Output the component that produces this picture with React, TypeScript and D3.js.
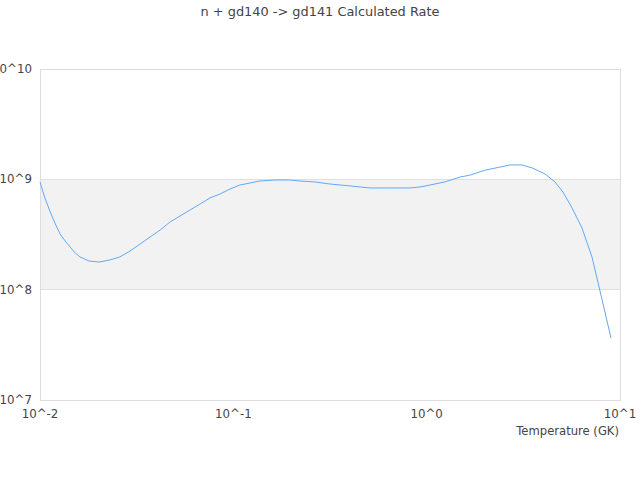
import React, { useRef, useEffect } from "react";
import * as d3 from "d3";

const title = "n + gd140 -> gd141 Calculated Rate";
const xLabel = "Temperature (GK)";

// temperature (GK)
const temps = [
  0.01, 0.0106, 0.0113, 0.012, 0.0127, 0.0136, 0.0143, 0.0152, 0.0161, 0.0179,
  0.0202, 0.023, 0.0259, 0.0292, 0.0329, 0.0371, 0.0418, 0.047, 0.053, 0.0597,
  0.0673, 0.0757, 0.0853, 0.0961, 0.108, 0.122, 0.137, 0.164, 0.196, 0.221,
  0.264, 0.316, 0.401, 0.509, 0.646, 0.82, 0.924, 1.04, 1.24, 1.49, 1.67, 2.0,
  2.39, 2.7, 3.11, 3.51, 4.09, 4.61, 5.07, 5.65, 6.36, 7.16, 7.97, 8.98,
];

// rate
const rates = [
  9.47e8, 6.78e8, 5.06e8, 3.94e8, 3.2e8, 2.71e8, 2.44e8, 2.15e8, 1.98e8, 1.82e8,
  1.78e8, 1.86e8, 1.98e8, 2.24e8, 2.59e8, 3.0e8, 3.47e8, 4.1e8, 4.65e8, 5.27e8,
  5.98e8, 6.78e8, 7.36e8, 8.17e8, 8.88e8, 9.26e8, 9.66e8, 9.87e8, 9.87e8, 9.66e8,
  9.47e8, 9.07e8, 8.71e8, 8.35e8, 8.35e8, 8.35e8, 8.53e8, 8.88e8, 9.47e8, 1.05e9,
  1.09e9, 1.21e9, 1.29e9, 1.35e9, 1.35e9, 1.27e9, 1.12e9, 9.47e8, 7.67e8, 5.5e8,
  3.62e8, 1.98e8, 8.96e7, 3.65e7,
];

const xTicks = [0.01, 0.1, 1, 10];
const xTickLabels = ["10^-2", "10^-1", "10^0", "10^1"];
const yTicks = [1e7, 1e8, 1e9, 1e10];
const yTickLabels = ["10^7", "10^8", "10^9", "10^10"];

const App = () => {
  const ref: any = useRef();

  const width = 640;
  const height = 480;
  const left = 40;
  const right = 620;
  const top = 69;
  const bottom = 400;
  const font = "'DejaVu Sans', sans-serif";

  useEffect(() => {
    const svg = d3.select(ref.current);
    svg.selectAll("*").remove();

    const xScale = d3.scaleLog().domain([0.01, 10]).range([left, right]);
    const yScale = d3.scaleLog().domain([1e7, 1e10]).range([bottom, top]);

    // shaded band between 10^8 and 10^9
    svg
      .append("rect")
      .attr("x", left)
      .attr("y", yScale(1e9))
      .attr("width", right - left)
      .attr("height", yScale(1e8) - yScale(1e9))
      .attr("fill", "#f2f2f2");

    // horizontal grid lines
    svg
      .selectAll(".grid")
      .data(yTicks)
      .enter()
      .append("line")
      .attr("x1", left)
      .attr("x2", right)
      .attr("y1", (d: any) => yScale(d))
      .attr("y2", (d: any) => yScale(d))
      .attr("stroke", "#e0e0e0")
      .attr("stroke-width", 1)
      .attr("shape-rendering", "crispEdges");

    // frame
    svg
      .append("rect")
      .attr("x", left)
      .attr("y", top)
      .attr("width", right - left)
      .attr("height", bottom - top)
      .attr("fill", "none")
      .attr("stroke", "#dddddd")
      .attr("shape-rendering", "crispEdges");

    // y tick labels
    svg
      .selectAll(".ylab")
      .data(yTicks)
      .enter()
      .append("text")
      .attr("x", left - 8)
      .attr("y", (d: any) => yScale(d))
      .attr("dy", "0.35em")
      .attr("text-anchor", "end")
      .attr("font-family", font)
      .attr("font-size", 11.8)
      .attr("fill", "#444")
      .text((d: any, i: number) => yTickLabels[i]);

    // x tick labels
    svg
      .selectAll(".xlab")
      .data(xTicks)
      .enter()
      .append("text")
      .attr("x", (d: any) => xScale(d))
      .attr("y", bottom + 18)
      .attr("text-anchor", "middle")
      .attr("font-family", font)
      .attr("font-size", 11.8)
      .attr("fill", "#444")
      .text((d: any, i: number) => xTickLabels[i]);

    // x axis title
    svg
      .append("text")
      .attr("x", right - 1)
      .attr("y", bottom + 35)
      .attr("text-anchor", "end")
      .attr("font-family", font)
      .attr("font-size", 11.6)
      .attr("fill", "#444")
      .text(xLabel);

    // chart title
    svg
      .append("text")
      .attr("x", width / 2)
      .attr("y", 16)
      .attr("text-anchor", "middle")
      .attr("font-family", font)
      .attr("font-size", 12.9)
      .attr("fill", "#444")
      .text(title);

    const points = temps.map((t, i) => [t, rates[i]]);
    const line = d3
      .line()
      .x((d: any) => xScale(d[0]))
      .y((d: any) => yScale(d[1]));

    svg
      .append("path")
      .datum(points)
      .attr("d", line as any)
      .attr("fill", "none")
      .attr("stroke", "#63a9f4")
      .attr("stroke-width", 1);
  }, []);

  return (
    <svg
      ref={ref}
      width={width}
      height={height}
      style={{ position: "absolute", left: 0, top: 0 }}
    ></svg>
  );
};

export default App;
